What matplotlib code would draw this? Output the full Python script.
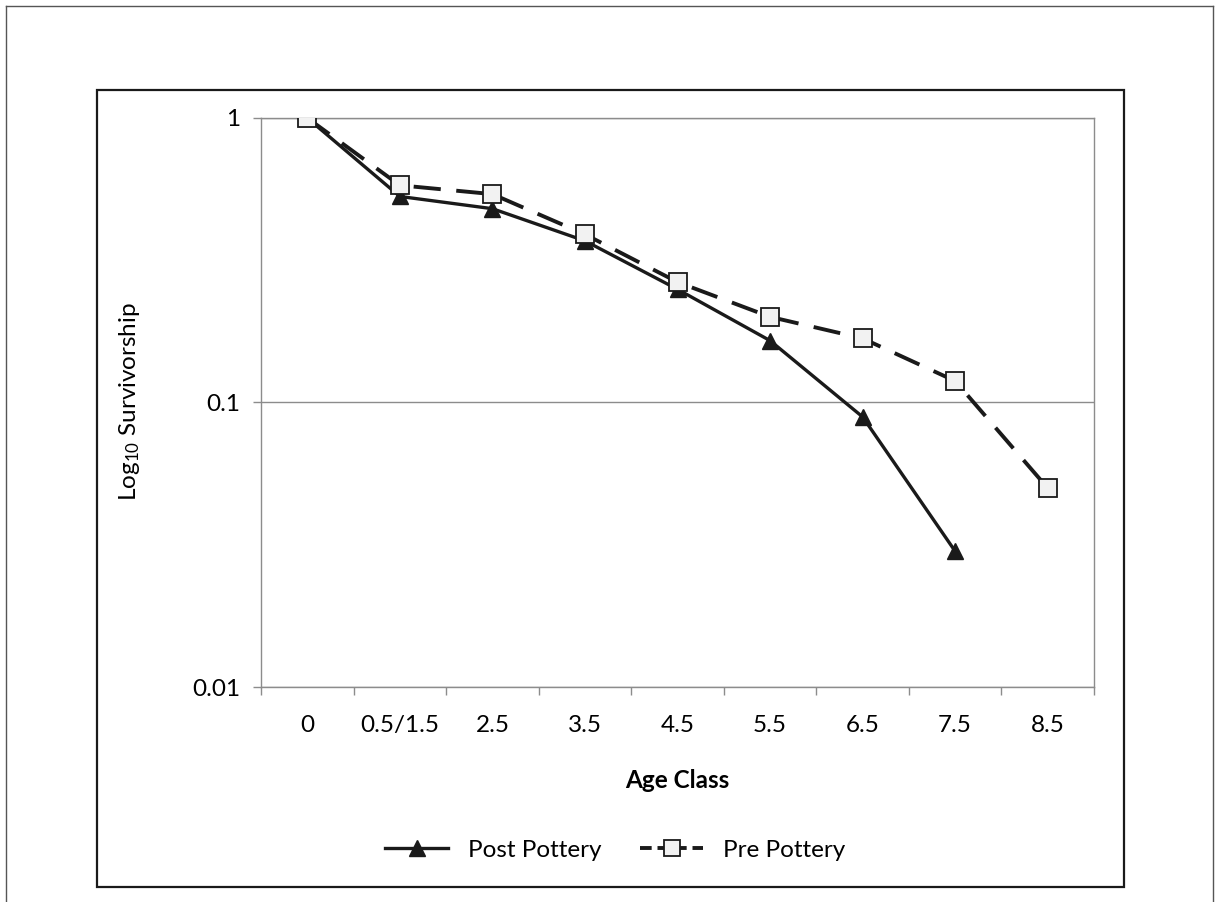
import numpy as np
import matplotlib
matplotlib.use("Agg")
import matplotlib.pyplot as plt
from matplotlib.patches import Rectangle
from matplotlib.lines import Line2D

plt.rcParams['font.family'] = ['Lato', 'DejaVu Sans']
plt.rcParams['mathtext.fontset'] = 'custom'
plt.rcParams['mathtext.rm'] = 'Lato'
plt.rcParams['mathtext.it'] = 'Lato'

# data
age_classes = ['0', '0.5/1.5', '2.5', '3.5', '4.5', '5.5', '6.5', '7.5', '8.5']
post_pottery = [1.0, 0.53, 0.48, 0.37, 0.25, 0.165, 0.089, 0.03]
pre_pottery = [1.0, 0.58, 0.54, 0.39, 0.265, 0.2, 0.168, 0.119, 0.05]

W, H = 1215, 902
FS = 17.5
fig = plt.figure(figsize=(W / 100, H / 100), dpi=100)

# plot area in pixel coords (left, top, right, bottom)
L, T, R, B = 261, 118, 1094, 687
ax = fig.add_axes([L / W, 1 - B / H, (R - L) / W, (B - T) / H])

grey = '#8c8c8c'
x_post = np.arange(len(post_pottery))
x_pre = np.arange(len(pre_pottery))

ax.plot(x_post, post_pottery, color='#1a1a1a', lw=2.4, marker='^', ms=12,
        mfc='#1a1a1a', mec='#1a1a1a', zorder=3, label='Post Pottery')
ax.plot(x_pre, pre_pottery, color='#1a1a1a', lw=2.8, dashes=(7, 4),
        marker='s', ms=12.5, mfc='#f2f2f2', mec='#1a1a1a', mew=1.3,
        zorder=4, label='Pre Pottery')

ax.set_yscale('log')
ax.set_ylim(0.01, 1)
ax.set_xlim(-0.5, len(age_classes) - 0.5)

ax.set_yticks([0.01, 0.1, 1])
ax.set_yticklabels(['0.01', '0.1', '1'])
ax.yaxis.set_minor_locator(matplotlib.ticker.NullLocator())
ax.tick_params(axis='y', which='major', length=6, color=grey, width=1,
               labelsize=FS, pad=9)

ax.set_xticks(np.arange(len(age_classes)))
ax.set_xticklabels(age_classes)
ax.set_xticks(np.arange(len(age_classes) + 1) - 0.5, minor=True)
ax.tick_params(axis='x', which='major', length=0, labelsize=FS, pad=20)
ax.tick_params(axis='x', which='minor', length=6, color=grey, width=1)

ax.grid(axis='y', which='major', color=grey, lw=1)
ax.set_axisbelow(True)
for s in ax.spines.values():
    s.set_color(grey)
    s.set_linewidth(1)

fig.text((L + R) / 2 / W, 1 - 780 / H, 'Age Class', ha='center', va='center',
         fontsize=FS, fontweight='bold')
fig.text(130 / W, 1 - 402 / H, r'Log$_{10}$ Survivorship', rotation=90,
         ha='center', va='center', fontsize=FS)

handles = [
    Line2D([], [], color='#1a1a1a', lw=2.4, marker='^', ms=11, mfc='#1a1a1a'),
    Line2D([], [], color='#1a1a1a', lw=2.8, dashes=(3, 1.5), marker='s',
           ms=11, mfc='#f2f2f2', mec='#1a1a1a', mew=1.3),
]
fig.legend(handles, ['Post Pottery', 'Pre Pottery'], loc='center',
           bbox_to_anchor=(615 / W, 1 - 850 / H), ncol=2, frameon=False,
           fontsize=FS, handlelength=2.6, handletextpad=0.8, columnspacing=1.6)

# chart frame and page edge
fig.add_artist(Rectangle((97 / W, 1 - 887 / H), (1124 - 97) / W, (887 - 90) / H,
                         transform=fig.transFigure, fill=False, lw=1.6,
                         edgecolor='#1a1a1a'))
fig.add_artist(Line2D([6 / W, 6 / W], [0, 1 - 6 / H], transform=fig.transFigure,
                      color='#555555', lw=1))
fig.add_artist(Line2D([6 / W, 1213 / W], [1 - 6 / H, 1 - 6 / H],
                      transform=fig.transFigure, color='#555555', lw=1))
fig.add_artist(Line2D([1213 / W, 1213 / W], [0, 1 - 6 / H],
                      transform=fig.transFigure, color='#555555', lw=1))

fig.savefig('out.png', dpi=100)
